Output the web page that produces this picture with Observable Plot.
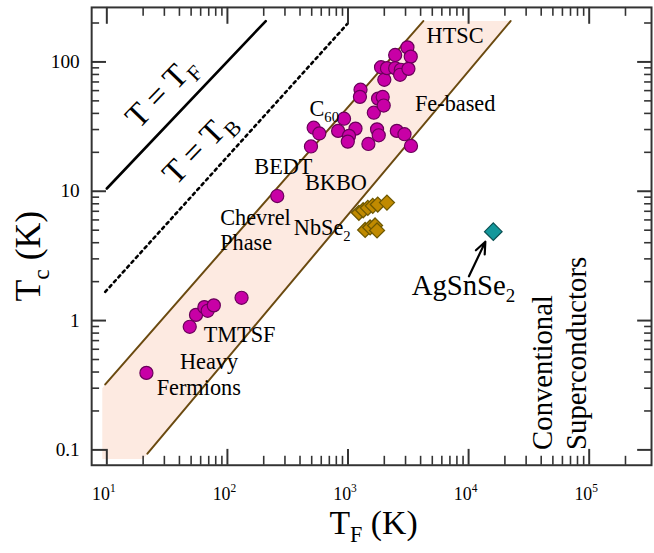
<!DOCTYPE html>
<html><head><meta charset="utf-8">
<script src="https://cdn.jsdelivr.net/npm/d3@7"></script>
<script src="https://cdn.jsdelivr.net/npm/@observablehq/plot@0.6"></script>
<style>
html,body{margin:0;padding:0;background:#fff;overflow:hidden;width:654px;height:553px}
#chart svg{display:block}
</style></head><body><div id="chart"></div>
<script>
// ---- data (T_F in K, T_c in K) ----
const circleTF = [21.3, 48.7, 54.9, 64.4, 68.6, 77.1, 131, 259, 519, 578, 493, 927, 828, 1154, 1019, 996, 1270, 1256, 1476, 1741, 1798, 1637, 1775, 1940, 1977, 2000, 2540, 2940, 3330, 3111, 3314, 2461, 1879, 2104, 2461, 2741, 2704, 3170];
const circleTc = [0.394, 0.895, 1.106, 1.27, 1.19, 1.31, 1.50, 9.18, 31.0, 28.0, 22.2, 36.4, 29.3, 30.5, 26.8, 24.2, 61.0, 53.7, 23.2, 30.1, 27.1, 40.5, 52.0, 53.6, 46.0, 72.8, 29.3, 27.6, 22.4, 129.6, 109.9, 113.2, 91.0, 89.5, 89.5, 86.9, 79.5, 88.4];
const nbTF = [1231, 1336, 1460, 1604, 1764, 2104, 1387, 1525, 1676, 1741];
const nbTc = [6.81, 7.13, 7.44, 7.71, 7.89, 8.17, 5.02, 5.25, 5.44, 4.98];
const agTF = [16030];
const agTc = [4.87];
const arrowFrom = [10070, 2.20];
const arrowTo = [13770, 4.07];

const lineFermiTF = [10, 208];
const lineFermiTc = [10.5, 207];
const lineBoseTF = [9.7, 993];
const lineBoseTc = [1.667, 198];
const bandUpperTF = [9.7, 4210];
const bandUpperTc = [0.321, 207];
const bandLowerTF = [21.7, 22300];
const bandLowerTc = [0.0935, 207];
const bandFillTF = [9.17, 9.7, 4210, 22300, 21.7, 20, 9.17];
const bandFillTc = [0.30, 0.321, 207, 207, 0.0935, 0.085, 0.085];

const labelText = ["HTSC", "Fe-based", "C_{60}", "BEDT", "BKBO", "Chevrel", "Phase", "NbSe_{2}", "TMTSF", "Heavy", "Fermions"];
const labelTF = [4487, 3589, 479, 167, 440, 87.1, 87.1, 355.6, 63.5, 40.4, 25.9];
const labelTc = [139, 41.6, 38.1, 13.6, 10.3, 5.47, 3.52, 4.58, 0.678, 0.424, 0.265];
const agLabel = {text: "AgSnSe_{2}", tf: 3373, tc: 1.59};
const convText = ["Conventional", "Superconductors"];
const convTF = [49500, 93800];
const convTc = [0.1, 0.1];
const lineLabelText = ["T = T_{F}", "T = T_{B}"];
const lineLabelTF = [28.1, 57.8];
const lineLabelTc = [58.9, 21.9];

const xMajor = [10, 100, 1000, 10000, 100000];
const xMajorLabels = ["10^{1}", "10^{2}", "10^{3}", "10^{4}", "10^{5}"];
const yMajor = [0.1, 1, 10, 100];
const yMajorLabels = ["0.1", "1", "10", "100"];
const xMinor = [];
for (let k = 1; k <= 5; k++) for (let m = 2; m <= 9; m++) { const v = m * 10 ** k; if (v < 2.5e5) xMinor.push(v); }
const yMinor = [];
for (let k = -1; k <= 2; k++) for (let m = 2; m <= 9; m++) { const v = m * 10 ** k; if (v < 260) yMinor.push(v); }

const zip = (a, b) => a.map((v, i) => ({tf: v, tc: b[i]}));

const W = 660, H = 553, ML = 92, MR = 3, MT = 7, MB = 84;
const FW = W - ML - MR, FH = H - MT - MB;
const tickColor = "#333";

const plot = Plot.plot({
  width: W, height: H,
  marginLeft: ML, marginRight: MR, marginTop: MT, marginBottom: MB,
  x: {type: "log", domain: [7.486, 328800], axis: null},
  y: {type: "log", domain: [0.0761, 263.9], axis: null},
  style: {fontFamily: "'Liberation Serif','Times New Roman',serif", background: "white", color: "black"},
  marks: [
    Plot.line(zip(bandFillTF, bandFillTc), {x: "tf", y: "tc", fill: "#fdeae1", stroke: "none"}),
    Plot.line(zip(bandUpperTF, bandUpperTc), {x: "tf", y: "tc", stroke: "#6b4a10", strokeWidth: 2}),
    Plot.line(zip(bandLowerTF, bandLowerTc), {x: "tf", y: "tc", stroke: "#6b4a10", strokeWidth: 2}),
    Plot.line(zip(lineFermiTF, lineFermiTc), {x: "tf", y: "tc", stroke: "black", strokeWidth: 2.6}),
    Plot.line(zip(lineBoseTF, lineBoseTc), {x: "tf", y: "tc", stroke: "black", strokeWidth: 2.6, strokeDasharray: "2.6,4"}),
    // ticks
    Plot.ruleX(xMajor, {x: d => d, stroke: tickColor, strokeWidth: 2, insetTop: FH - 16}),
    Plot.ruleX(xMinor, {x: d => d, stroke: tickColor, strokeWidth: 1.6, insetTop: FH - 9}),
    Plot.ruleX(xMajor, {x: d => d, stroke: tickColor, strokeWidth: 2, insetBottom: FH - 17}),
    Plot.ruleX(xMinor, {x: d => d, stroke: tickColor, strokeWidth: 1.6, insetBottom: FH - 9}),
    Plot.ruleY(yMajor, {y: d => d, stroke: tickColor, strokeWidth: 2, insetRight: FW - 15}),
    Plot.ruleY(yMinor, {y: d => d, stroke: tickColor, strokeWidth: 1.6, insetRight: FW - 8}),
    Plot.ruleY(yMajor, {y: d => d, stroke: tickColor, strokeWidth: 2, insetLeft: FW - 14}),
    Plot.ruleY(yMinor, {y: d => d, stroke: tickColor, strokeWidth: 1.6, insetLeft: FW - 7}),
    Plot.frame({stroke: tickColor, strokeWidth: 2}),
    // data
    Plot.dot(zip(circleTF, circleTc), {x: "tf", y: "tc", r: 6.6, fill: "#c800a6", stroke: "#6a005a", strokeWidth: 1.2}),
    Plot.dot(zip(nbTF, nbTc), {x: "tf", y: "tc", symbol: "diamond2", r: 6.8, fill: "#c08a00", stroke: "#6e5800", strokeWidth: 1.3}),
    Plot.dot(zip(agTF, agTc), {x: "tf", y: "tc", symbol: "diamond2", r: 8, fill: "#13979b", stroke: "#0b4f52", strokeWidth: 1.2}),
    Plot.arrow([0], {x1: () => arrowFrom[0], y1: () => arrowFrom[1], x2: () => arrowTo[0], y2: () => arrowTo[1], stroke: "black", strokeWidth: 2.2, headLength: 11, headAngle: 45}),
    // labels
    Plot.text(labelText, {x: (d, i) => labelTF[i], y: (d, i) => labelTc[i], text: d => d, textAnchor: "start", lineAnchor: "bottom", fontSize: 22.5, fill: "black"}),
    Plot.text([agLabel], {x: "tf", y: "tc", text: "text", textAnchor: "start", lineAnchor: "bottom", fontSize: 29, fill: "black"}),
    Plot.text(convText, {x: (d, i) => convTF[i], y: (d, i) => convTc[i], text: d => d, rotate: -90, textAnchor: "start", lineAnchor: "bottom", fontSize: 29, fill: "black"}),
    Plot.text(lineLabelText, {x: (d, i) => lineLabelTF[i], y: (d, i) => lineLabelTc[i], text: d => d, rotate: -46, textAnchor: "middle", lineAnchor: "middle", fontSize: 33, fill: "black"}),
    // tick labels
    Plot.text(xMajor, {x: d => d, frameAnchor: "bottom", dy: 35, dx: -3, text: (d, i) => xMajorLabels[i], textAnchor: "middle", lineAnchor: "bottom", fontSize: 18, fill: "black"}),
    Plot.text(yMajor, {y: d => d, frameAnchor: "left", dx: -12, text: (d, i) => yMajorLabels[i], textAnchor: "end", lineAnchor: "middle", fontSize: 19.5, fill: "black"}),
    // axis titles
    Plot.text(["T_{F} (K)"], {frameAnchor: "bottom", dy: 69, dx: 2, text: d => d, textAnchor: "middle", lineAnchor: "bottom", fontSize: 34, fill: "black"}),
    Plot.text(["T_{c} (K)"], {frameAnchor: "left", dx: -52, dy: 20, rotate: -90, text: d => d, textAnchor: "middle", lineAnchor: "bottom", fontSize: 36, fill: "black"})
  ]
});
document.getElementById("chart").appendChild(plot);

function rich(svg) {
  svg.querySelectorAll("text").forEach(t => {
    const s = t.textContent;
    if (!/[_^]\{/.test(s)) return;
    const fs = parseFloat(getComputedStyle(t).fontSize) || 16;
    while (t.firstChild) t.removeChild(t.firstChild);
    const re = /([_^])\{([^}]*)\}/g;
    let last = 0, m, cur = 0;
    const add = (txt, off, size) => {
      const ts = document.createElementNS("http://www.w3.org/2000/svg", "tspan");
      ts.textContent = txt;
      const d = off - cur;
      if (d) ts.setAttribute("dy", d);
      cur = off;
      if (size) ts.setAttribute("font-size", size);
      t.appendChild(ts);
    };
    while ((m = re.exec(s))) {
      if (m.index > last) add(s.slice(last, m.index), 0, null);
      if (m[1] === "_") add(m[2], fs * 0.25, fs * 0.66);
      else add(m[2], -fs * 0.42, fs * 0.64);
      last = re.lastIndex;
    }
    if (last < s.length) add(s.slice(last), 0, null);
  });
}
rich(plot);
</script></body></html>
